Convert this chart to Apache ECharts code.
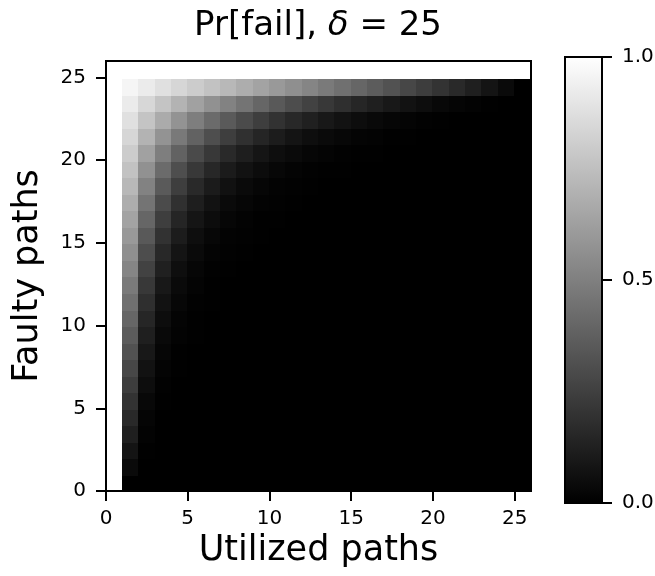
<!DOCTYPE html>
<html><head><meta charset="utf-8">
<script src="https://cdn.jsdelivr.net/npm/echarts@6/dist/echarts.min.js"></script>
<style>html,body{margin:0;padding:0;background:#fff}#c{width:655px;height:576px}</style>
</head><body><div id="c"></div>
<script>
// categories (cell value = lower/left edge of the cell)
const utilizedPaths = [0,1,2,3,4,5,6,7,8,9,10,11,12,13,14,15,16,17,18,19,20,21,22,23,24,25];
const faultyPaths   = [0,1,2,3,4,5,6,7,8,9,10,11,12,13,14,15,16,17,18,19,20,21,22,23,24,25];
const axisTicks = [0,5,10,15,20,25];
const colorbarTicks = [0, 0.5, 1];

// Pr[fail] read per faulty-path row (index = utilized paths); omitted tail entries are 0
const failProbByFaulty = [
  /* 0 */ [1],
  /* 1 */ [1,.04],
  /* 2 */ [1,.08,.0033],
  /* 3 */ [1,.12,.01,.0004],
  /* 4 */ [1,.16,.02,.0017,.0001],
  /* 5 */ [1,.20,.0333,.0043,.0004],
  /* 6 */ [1,.24,.05,.0087,.0012,.0001],
  /* 7 */ [1,.28,.07,.0152,.0028,.0004],
  /* 8 */ [1,.32,.0933,.0243,.0055,.0011,.0002],
  /* 9 */ [1,.36,.12,.0365,.0100,.0024,.0005,.0001],
  /*10 */ [1,.40,.15,.0522,.0166,.0047,.0012,.0003],
  /*11 */ [1,.44,.1833,.0717,.0261,.0087,.0026,.0007,.0002],
  /*12 */ [1,.48,.22,.0957,.0391,.0149,.0052,.0017,.0005],
  /*13 */ [1,.52,.26,.1243,.0565,.0242,.0097,.0036,.0012,.0004],
  /*14 */ [1,.56,.3033,.1583,.0792,.0377,.0170,.0072,.0028,.0010,.0003],
  /*15 */ [1,.60,.35,.1978,.1079,.0565,.0283,.0134,.0060,.0025,.0009,.0003],
  /*16 */ [1,.64,.40,.2435,.1439,.0822,.0452,.0238,.0119,.0056,.0025,.0010,.0004],
  /*17 */ [1,.68,.4533,.2957,.1882,.1165,.0699,.0405,.0225,.0119,.0060,.0028,.0012,.0004],
  /*18 */ [1,.72,.51,.3548,.2419,.1613,.1048,.0662,.0405,.0238,.0134,.0072,.0036,.0016,.0007,.0003],
  /*19 */ [1,.76,.57,.4213,.3064,.2189,.1532,.1048,.0699,.0452,.0283,.0170,.0097,.0052,.0026,.0012,.0005,.0002],
  /*20 */ [1,.80,.6333,.4957,.3830,.2918,.2189,.1613,.1165,.0822,.0565,.0377,.0242,.0149,.0087,.0047,.0024,.0010,.0004,.0001],
  /*21 */ [1,.84,.70,.5783,.4732,.3830,.3064,.2419,.1882,.1439,.1079,.0792,.0565,.0391,.0261,.0166,.0100,.0055,.0028,.0012,.0004,.0001],
  /*22 */ [1,.88,.77,.6696,.5783,.4957,.4213,.3548,.2957,.2435,.1978,.1583,.1243,.0957,.0717,.0522,.0365,.0243,.0152,.0087,.0043,.0017,.0004],
  /*23 */ [1,.92,.8433,.77,.70,.6333,.57,.51,.4533,.40,.35,.3033,.26,.22,.1833,.15,.12,.0933,.07,.05,.0333,.02,.01,.0033],
  /*24 */ [1,.96,.92,.88,.84,.80,.76,.72,.68,.64,.60,.56,.52,.48,.44,.40,.36,.32,.28,.24,.20,.16,.12,.08,.04,0],
  /*25 */ [1,1,1,1,1,1,1,1,1,1,1,1,1,1,1,1,1,1,1,1,1,1,1,1,1,1]
];

const cellData = [];
faultyPaths.forEach((f, fi) => {
  const row = failProbByFaulty[fi];
  utilizedPaths.forEach((u, ui) => {
    cellData.push([u, f, ui < row.length ? row[ui] : 0]);
  });
});

const FONT = 'DejaVu Sans';
const tickStyle = { show: true, inside: false, length: 10, lineStyle: { color: '#000', width: 2 } };
const labelBase = { color: '#000', fontFamily: FONT, fontSize: 20 };

const chart = echarts.init(document.getElementById('c'), null, { renderer: 'canvas' });
chart.setOption({
  animation: false,
  backgroundColor: '#fff',
  title: {
    text: 'Pr[fail], {d|δ} = 25',
    left: 318, top: 9, padding: 0, textAlign: 'center',
    textStyle: { color: '#000', fontFamily: FONT, fontSize: 34, fontWeight: 'normal',
      rich: { d: { fontFamily: FONT, fontSize: 34, fontStyle: 'italic', color: '#000' } } }
  },
  grid: [
    { left: 106, top: 61, width: 425, height: 430, show: true, z: 5, backgroundColor: 'transparent',
      borderColor: '#000', borderWidth: 2, outerBoundsMode: 'none' },
    { left: 565, top: 57, width: 37, height: 446, show: true, z: 5, backgroundColor: 'transparent',
      borderColor: '#000', borderWidth: 2, outerBoundsMode: 'none' }
  ],
  xAxis: [
    { type: 'value', gridIndex: 0, min: 0, max: 26, position: 'bottom',
      name: 'Utilized paths', nameLocation: 'middle', nameGap: 39,
      nameTextStyle: { color: '#000', fontFamily: FONT, fontSize: 35 },
      axisLine: { show: true, lineStyle: { color: '#000', width: 2 } },
      axisTick: Object.assign({ customValues: axisTicks }, tickStyle),
      axisLabel: Object.assign({ customValues: axisTicks, margin: 18 }, labelBase),
      splitLine: { show: false } },
    { type: 'category', gridIndex: 1, data: ['cb'], show: false }
  ],
  yAxis: [
    { type: 'value', gridIndex: 0, min: 0, max: 26, position: 'left',
      name: 'Faulty paths', nameLocation: 'middle', nameGap: 61,
      nameTextStyle: { color: '#000', fontFamily: FONT, fontSize: 35 },
      axisLine: { show: true, lineStyle: { color: '#000', width: 2 } },
      axisTick: Object.assign({ customValues: axisTicks }, tickStyle),
      axisLabel: Object.assign({ customValues: axisTicks, margin: 20 }, labelBase),
      splitLine: { show: false } },
    { type: 'value', gridIndex: 1, min: 0, max: 1, position: 'right',
      axisLine: { show: false },
      axisTick: Object.assign({ customValues: colorbarTicks }, tickStyle),
      axisLabel: Object.assign({ customValues: colorbarTicks, margin: 20,
        formatter: v => v.toFixed(1) }, labelBase),
      splitLine: { show: false } }
  ],
  visualMap: {
    type: 'continuous', show: false, min: 0, max: 1, seriesIndex: 0, dimension: 2,
    inRange: { color: ['#000000', '#ffffff'] }
  },
  series: [
    { type: 'custom', xAxisIndex: 0, yAxisIndex: 0, data: cellData, silent: true,
      encode: { x: 0, y: 1 },
      renderItem: function (params, api) {
        const u = api.value(0), f = api.value(1);
        const p0 = api.coord([u, f]);
        const p1 = api.coord([u + 1, f + 1]);
        const x = Math.floor(p0[0]), y = Math.floor(p1[1]);
        return {
          type: 'rect',
          shape: { x: x, y: y, width: Math.ceil(p1[0]) - x + 1, height: Math.ceil(p0[1]) - y + 1 },
          style: { fill: api.visual('color'), stroke: null }
        };
      } },
    { type: 'bar', xAxisIndex: 1, yAxisIndex: 1, data: [1], barWidth: '100%', silent: true,
      itemStyle: { color: new echarts.graphic.LinearGradient(0, 0, 0, 1, [
        { offset: 0, color: '#ffffff' }, { offset: 1, color: '#000000' }]) } }
  ]
});
</script>
</body></html>
